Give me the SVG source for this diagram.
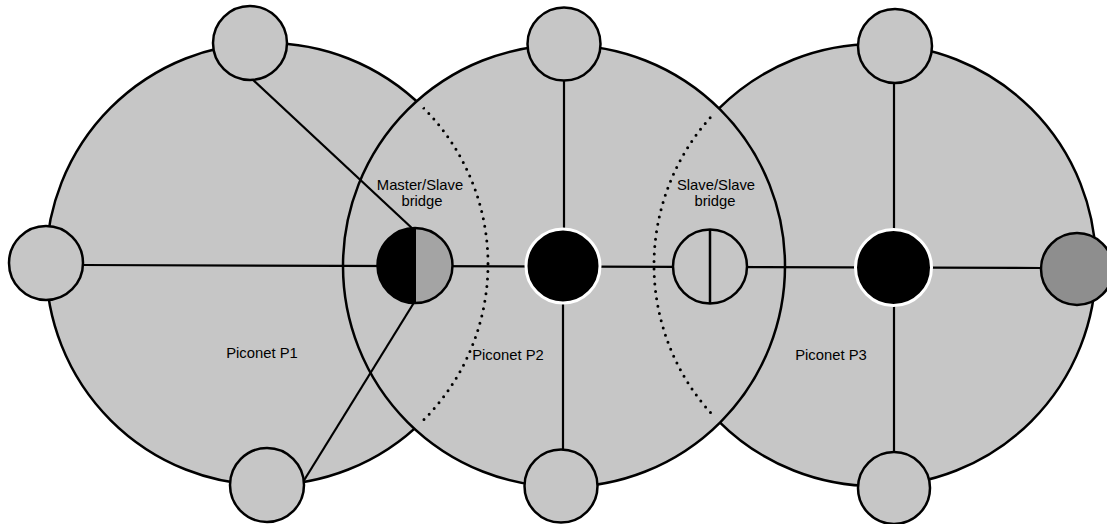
<svg xmlns="http://www.w3.org/2000/svg" width="1107" height="524" viewBox="0 0 1107 524">
<style>
.area{fill:#c6c6c6;stroke:#000;stroke-width:2.5}
.dots{fill:none;stroke:#000;stroke-width:3;stroke-dasharray:0 7.5;stroke-linecap:round}
.link{stroke:#000;stroke-width:2.2;fill:none}
.dev{fill:#c6c6c6;stroke:#000;stroke-width:2.5}
.master{fill:#000;stroke:#fff;stroke-width:3}
.lbl{font-family:"Liberation Sans",Arial,Helvetica,sans-serif;font-size:14.8px;fill:#000;text-anchor:middle}
</style>
<defs>
<clipPath id="inP2"><circle cx="564" cy="266" r="212"/></clipPath>
</defs>
<rect width="1107" height="524" fill="#fff"/>
<g id="piconet-p1"><circle class="area" cx="267" cy="264" r="221"/></g>
<g id="piconet-p3"><circle class="area" cx="875" cy="265" r="221"/></g>
<g id="piconet-p2"><circle class="area" cx="564" cy="266" r="221"/></g>
<g id="piconet-boundaries" clip-path="url(#inP2)">
<circle class="dots" cx="267" cy="264" r="221"/>
<circle class="dots" cx="875" cy="265" r="221"/>
</g>
<g id="connectors">
<line class="link" x1="82" y1="265" x2="1041" y2="268"/>
<line class="link" x1="252" y1="79" x2="414" y2="230"/>
<line class="link" x1="303" y1="482" x2="415" y2="301"/>
<line class="link" x1="564" y1="80" x2="564" y2="230"/>
<line class="link" x1="563" y1="302" x2="563" y2="450"/>
<line class="link" x1="894" y1="82" x2="894" y2="231"/>
<line class="link" x1="894" y1="304" x2="894" y2="452"/>
</g>
<g id="p1-left"><circle class="dev" cx="46" cy="263" r="37"/></g>
<g id="p1-top"><circle class="dev" cx="250" cy="43" r="37"/></g>
<g id="p1-bottom"><circle class="dev" cx="267" cy="485" r="37"/></g>
<g id="master-slave-bridge">
<path d="M415,228 A37.5,37.5 0 0 0 415,303 Z" fill="#000"/>
<path d="M415,228 A37.5,37.5 0 0 1 415,303 Z" fill="#a4a4a4"/>
<circle cx="415" cy="265.5" r="37.5" fill="none" stroke="#000" stroke-width="2.5"/>
<line x1="415" y1="228" x2="415" y2="303" stroke="#000" stroke-width="2"/>
</g>
<g id="p2-top"><circle class="dev" cx="564" cy="44" r="36.5"/></g>
<g id="p2-master"><circle class="master" cx="563" cy="266" r="37"/></g>
<g id="p2-bottom"><circle class="dev" cx="561" cy="486" r="36.5"/></g>
<g id="slave-slave-bridge">
<circle class="dev" cx="710" cy="266.5" r="37"/>
<line x1="710" y1="229.5" x2="710" y2="303.5" stroke="#000" stroke-width="2.5"/>
</g>
<g id="p3-top"><circle class="dev" cx="895" cy="46" r="37"/></g>
<g id="p3-master"><circle class="master" cx="893.5" cy="267.5" r="38"/></g>
<g id="p3-bottom"><circle class="dev" cx="894" cy="488" r="36"/></g>
<g id="p3-right"><circle class="dev" cx="1077" cy="269" r="36" style="fill:#8e8e8e"/></g>
<g id="labels">
<text class="lbl" x="420" y="190">Master/Slave</text>
<text class="lbl" x="422" y="206">bridge</text>
<text class="lbl" x="716" y="190">Slave/Slave</text>
<text class="lbl" x="715" y="206">bridge</text>
<text class="lbl" x="262" y="358">Piconet P1</text>
<text class="lbl" x="508" y="360">Piconet P2</text>
<text class="lbl" x="831" y="360">Piconet P3</text>
</g>
</svg>
